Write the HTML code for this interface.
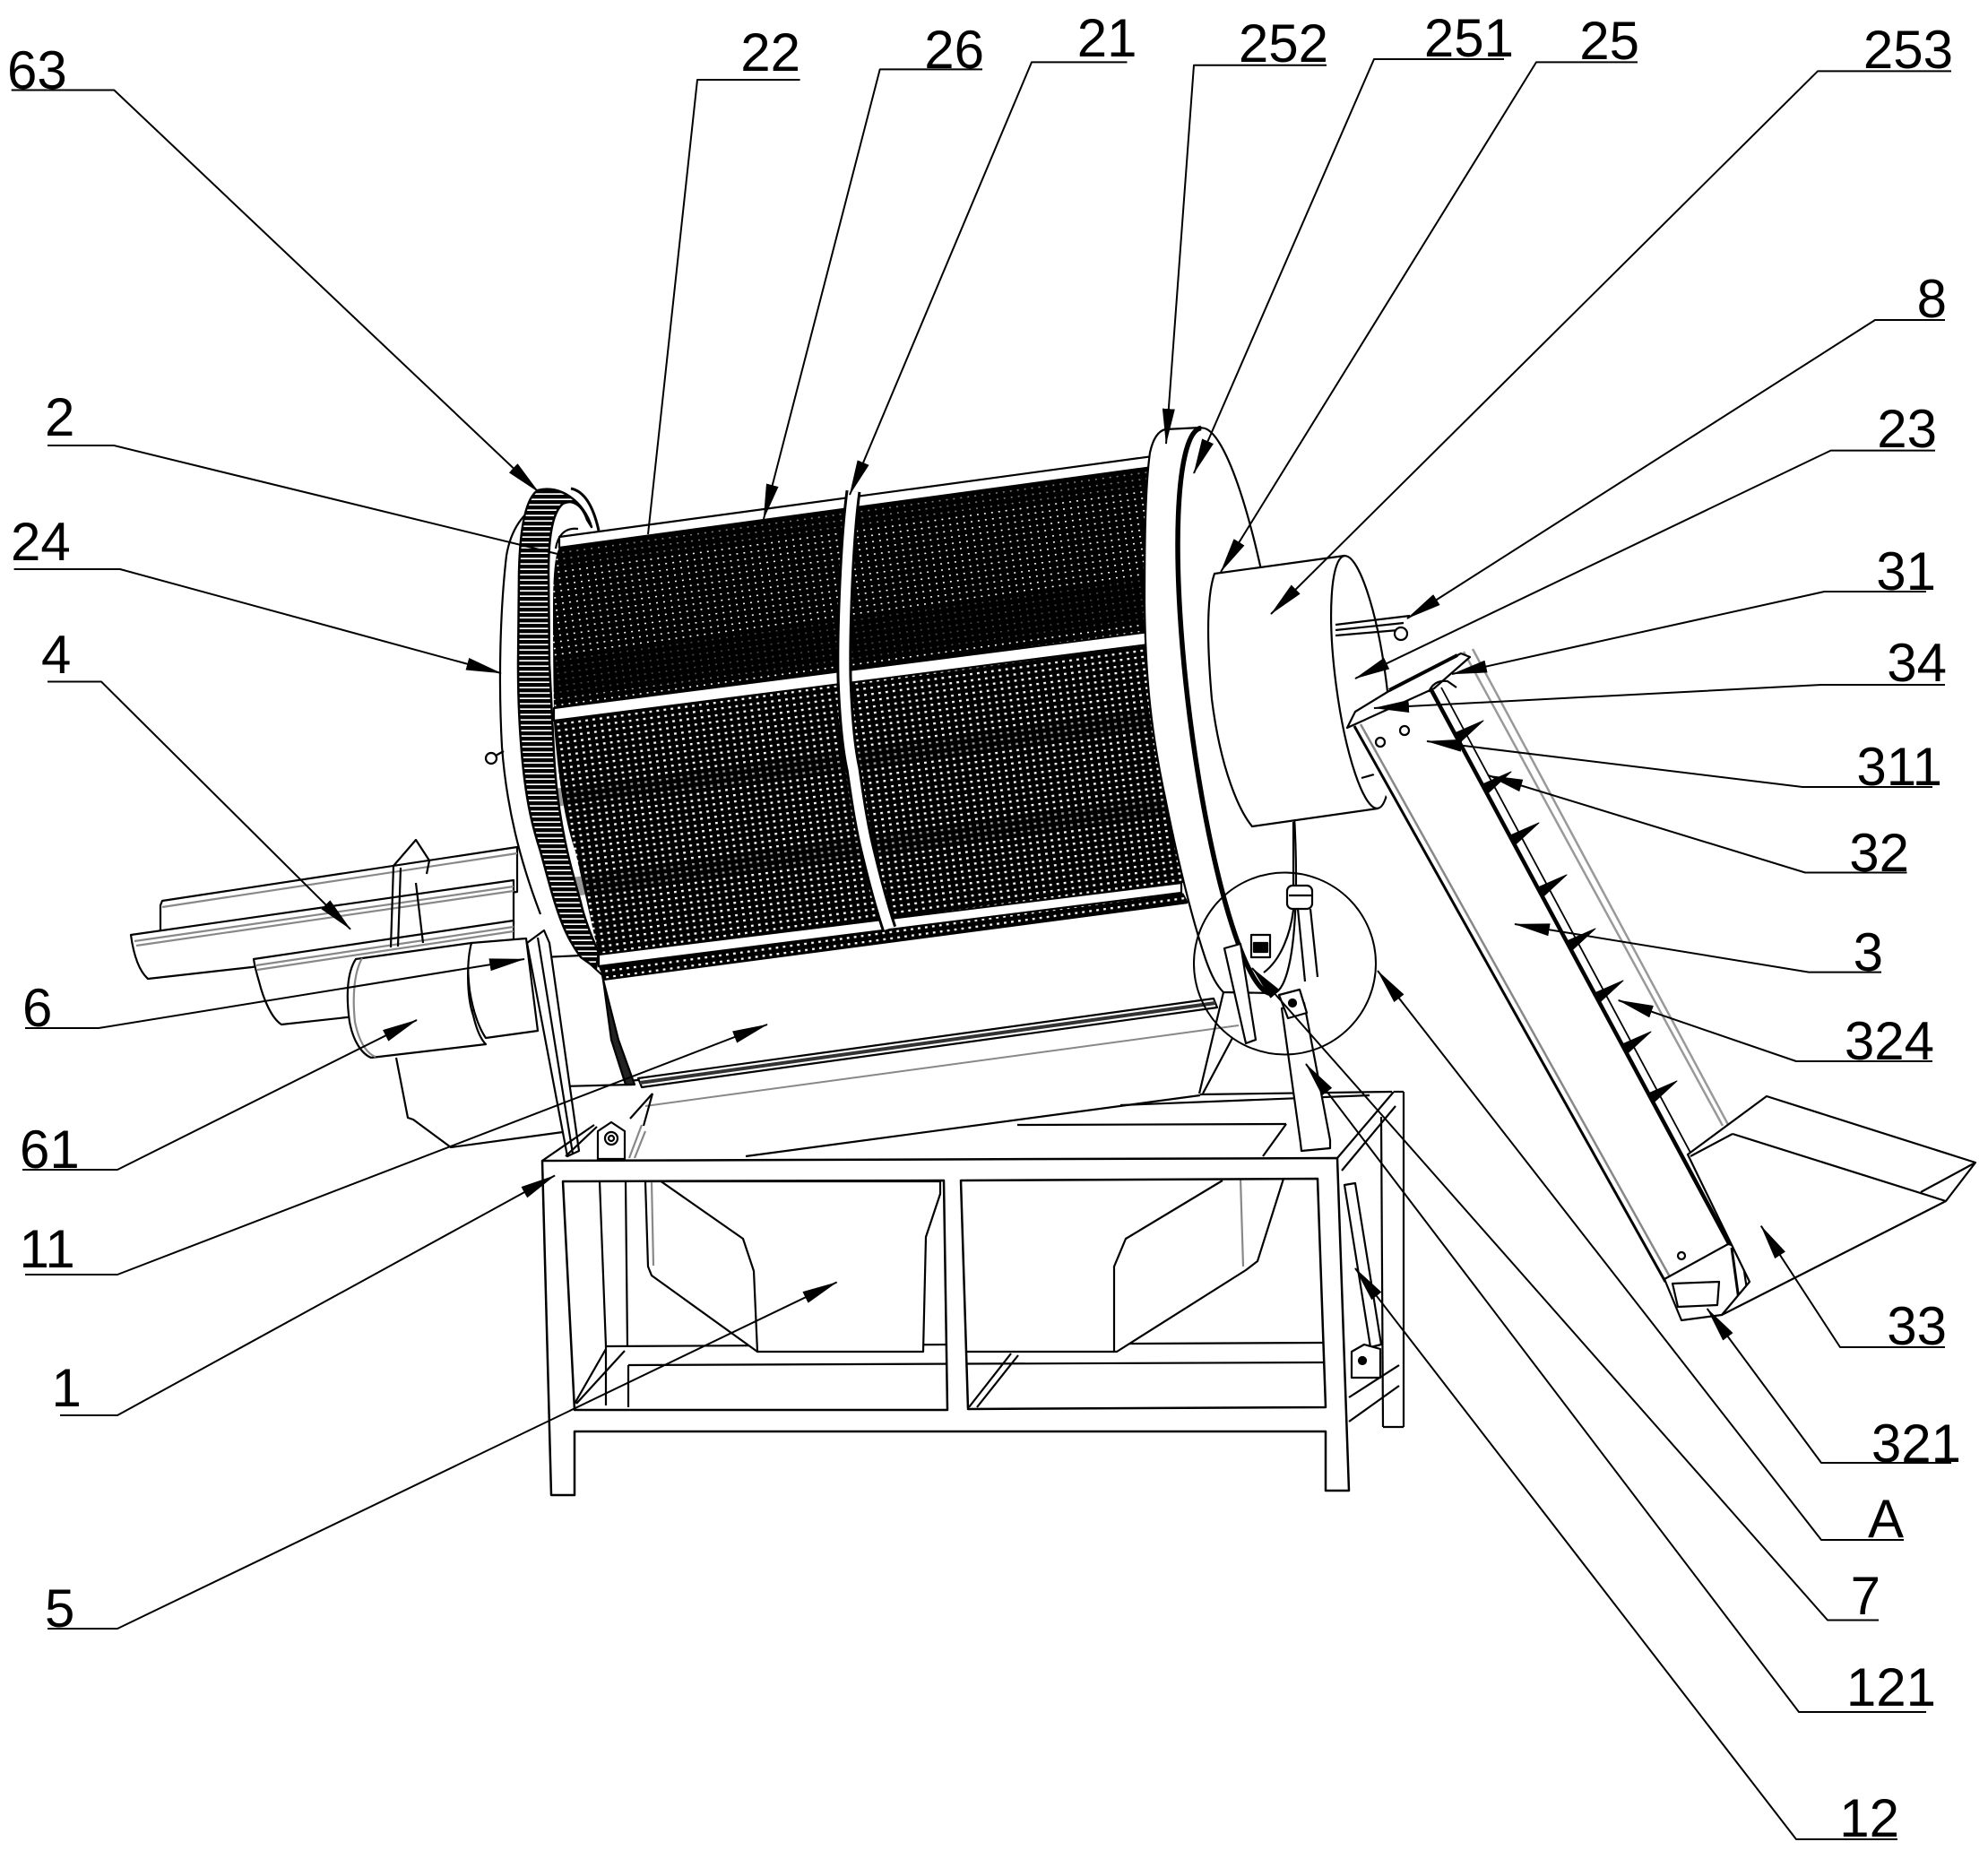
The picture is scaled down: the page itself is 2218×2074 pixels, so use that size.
<!DOCTYPE html>
<html><head><meta charset="utf-8"><style>
html,body{margin:0;padding:0;background:#fff;}
svg{display:block;}
text{font-family:"Liberation Sans",Arial,sans-serif;font-size:60px;fill:#000;}
</style></head><body>
<svg width="2218" height="2074" viewBox="0 0 2218 2074" xmlns="http://www.w3.org/2000/svg">
<defs>
<pattern id="mD" width="8" height="7" patternUnits="userSpaceOnUse" patternTransform="rotate(-7.8)">
<rect width="8" height="7" fill="#000"/><rect x="2" y="2" width="1.9" height="1.6" fill="#fff"/></pattern>
<pattern id="mL" width="8" height="7" patternUnits="userSpaceOnUse" patternTransform="rotate(-7.8)">
<rect width="8" height="7" fill="#000"/><rect x="2" y="2" width="2.8" height="2.3" fill="#fff"/></pattern>
<pattern id="teeth" width="8" height="6" patternUnits="userSpaceOnUse">
<rect width="8" height="6" fill="#fff"/><rect width="8" height="4.3" fill="#000"/></pattern>
<marker id="ah" viewBox="0 0 40 14" refX="39" refY="7" markerWidth="40" markerHeight="14" orient="auto" markerUnits="userSpaceOnUse"><path d="M0,0 L40,7 L0,14 Z" fill="#000"/></marker>
</defs>

<g stroke="#000" stroke-width="2.2" stroke-linejoin="round" fill="none">

<!-- troughs (4) -->
<path d="M181 1005 L577 945 L577 995 L179 1042 L179 1010 Z" fill="#fff"/>
<line x1="181" y1="1012" x2="577" y2="952" stroke="#888"/>
<path d="M146 1043 L573 982 L573 1032 L281 1079 L165 1092 C155 1083 149 1065 146 1043 Z" fill="#fff"/>
<line x1="150" y1="1050" x2="573" y2="989" stroke="#888"/>
<line x1="152" y1="1055" x2="573" y2="994" stroke="#888"/>
<path d="M283 1070 L573 1027 L573 1125 L387 1135 L314 1143 C303 1136 294 1115 289 1095 C286 1085 284 1077 283 1070 Z" fill="#fff"/>
<line x1="286" y1="1077" x2="573" y2="1034" stroke="#888"/>
<line x1="287" y1="1082" x2="573" y2="1039" stroke="#888"/>
<polyline points="436,1057 439,966 464,937 479,960 476,975"/>
<line x1="444" y1="1056" x2="447" y2="968"/>
<line x1="464" y1="985" x2="472" y2="1052"/>

<!-- motor -->
<path d="M442 1180 L455 1247 L461 1249 L503 1280 L628 1263"/>
<path d="M526 1052 L587 1047 L600 1150 L542 1158 C535 1148 528 1130 524 1105 C521 1080 522 1062 526 1052 Z" fill="#fff"/>
<path d="M397 1070 L526 1052 C521 1070 520 1110 528 1133 C532 1150 537 1160 542 1165 L414 1180 C404 1176 394 1162 390 1140 C386 1112 387 1085 397 1070 Z" fill="#fff"/>
<path d="M404 1069 C395 1085 393 1112 396 1140 C400 1160 408 1175 419 1179" stroke="#888"/>

<!-- housing lines -->
<path d="M712 1203 L1354 1114 L1358 1124 L716 1213 Z" fill="#fff"/>
<line x1="714" y1="1208" x2="1356" y2="1119" stroke="#333" stroke-width="4"/>
<line x1="720" y1="1234" x2="1382" y2="1144" stroke="#888" stroke-width="2"/>
<line x1="636" y1="1211" x2="712" y2="1205"/>
<line x1="832" y1="1290" x2="1339" y2="1222"/>
<line x1="1339" y1="1221" x2="1553" y2="1218"/>
<line x1="1250" y1="1233" x2="1528" y2="1222"/>
<line x1="1135" y1="1255" x2="1435" y2="1254"/>
<line x1="1435" y1="1254" x2="1409" y2="1290"/>
<line x1="703" y1="1248" x2="728" y2="1220"/>
<line x1="728" y1="1220" x2="718" y2="1256"/>

<!-- drive plate, bracket bar -->
<path d="M605 1068 L648 1066 L672 1088 L686 1165 L705 1210 L628 1212 Z" fill="#fff"/>
<path d="M673 1093 L690 1160 L708 1210 L698 1210 L682 1160 Z" fill="#222"/>
<path d="M588 1052 L607 1038 L613 1052 L646 1284 L633 1290 Z" fill="#fff"/>
<line x1="600" y1="1046" x2="639" y2="1287"/>
<line x1="605" y1="1295" x2="663" y2="1255"/>
<line x1="631" y1="1290" x2="666" y2="1257"/>
<path d="M667 1293 L667 1262 L682 1252 L697 1262 L697 1293 Z" fill="#fff"/>
<circle cx="682" cy="1270" r="7"/><circle cx="682" cy="1270" r="3"/>
<line x1="702" y1="1292" x2="716" y2="1255" stroke="#888"/>
<line x1="708" y1="1292" x2="720" y2="1262" stroke="#888"/>

<!-- drum body -->
<path d="M624 599 L1290 508 L1325 1007 L673 1093 Z" fill="#fff" stroke="none"/>
<path d="M624 611 L1290 520 L1290 705 L618 790 C617 740 617 700 617 680 C617 640 619 620 624 611 Z" fill="url(#mD)" stroke="none"/>
<path d="M618 804 L1290 719 L1320 985 L668 1065 C660 1030 651 990 642 950 C633 925 626 890 621 840 C619 820 618 810 618 804 Z" fill="url(#mL)" stroke="none"/>
<path d="M668 1078 L1320 996 L1326 1007 L673 1093 Z" fill="url(#mL)" stroke="none"/>
<path d="M618 735 L1290 645 L1290 690 L618 780 Z" fill="#000" opacity="0.7" stroke="none"/>
<path d="M624 611 L1290 520 L1290 545 L624 636 Z" fill="#000" opacity="0.5" stroke="none"/>
<path d="M618 880 L1300 790 L1302 810 L620 900 Z" fill="#000" opacity="0.4" stroke="none"/>
<path d="M630 980 L1312 890 L1314 910 L640 1000 Z" fill="#000" opacity="0.4" stroke="none"/>
<path d="M624 599 L1286 509 L1286 521 L624 611 Z" fill="#fff"/>
<path d="M618 790 L1282 705 L1282 719 L618 804 Z" fill="#fff"/>
<path d="M668 1065 L1318 985 L1318 996 L668 1078 Z" fill="#fff"/>
<line x1="673" y1="1093" x2="1325" y2="1007"/>
<path d="M952 548 C945 600 941 700 942 756 C944 810 948 840 952 858 C958 900 962 925 969 953 C978 990 985 1015 992 1036" stroke="#000" stroke-width="17"/>
<path d="M952 548 C945 600 941 700 942 756 C944 810 948 840 952 858 C958 900 962 925 969 953 C978 990 985 1015 992 1036" stroke="#fff" stroke-width="11"/>
<path d="M645 590 C630 588 622 598 620 612"/>

<!-- ring 24, gear 63 -->
<path d="M600 566 C585 570 570 590 565 620 C558 680 556 760 560 833 C565 900 580 960 603 1020"/>
<circle cx="548" cy="846" r="6" fill="#fff"/>
<line x1="553" y1="843" x2="562" y2="838"/>
<path d="M660 588 C652 560 625 540 600 547 C586 556 580 590 579 640 L578 740 C578 790 580 820 583 850 C588 900 595 925 603 950 C610 975 615 995 620 1010 C628 1035 635 1050 648 1068 L665 1080 L668 1063 C660 1045 652 1025 648 1007 C642 985 637 968 633 950 C625 915 620 880 618 840 L613 740 L612 640 C612 600 616 572 628 562 C640 556 650 565 655 580 Z" fill="url(#teeth)" stroke-width="2.5"/>
<path d="M637 545 C652 548 662 565 668 592" stroke-width="3"/>

<!-- right end plate -->
<path d="M1340 477 L1300 479 Q1288 482 1283 505 C1278 540 1277 600 1277 673 C1278 760 1285 820 1300 890 C1310 940 1325 1010 1345 1070 C1352 1090 1358 1100 1365 1107 L1420 1108 Z" fill="#fff"/>
<ellipse cx="1380" cy="793" rx="53" ry="318" transform="rotate(-7.2 1380 793)" fill="#fff"/>
<path d="M1340 477.5 A 53 318 -7.2 0 0 1420 1108.5" stroke-width="5.5"/>
<line x1="1365" y1="1107" x2="1338" y2="1220"/>
<line x1="1375" y1="1158" x2="1342" y2="1220"/>

<!-- items in circle A -->
<path d="M1366 1058 L1384 1053 L1401 1160 L1390 1164 Z" fill="#fff"/>
<rect x="1396" y="1043" width="21" height="25" fill="#fff"/>
<rect x="1399" y="1052" width="15" height="10" fill="#000"/>
<line x1="1443" y1="917" x2="1443" y2="990"/>
<rect x="1436" y="988" width="28" height="26" rx="6" fill="#fff"/>
<line x1="1438" y1="999" x2="1464" y2="999"/>
<line x1="1448" y1="1014" x2="1456" y2="1095"/>
<line x1="1462" y1="1014" x2="1470" y2="1090"/>
<path d="M1410 1085 C1430 1070 1440 1040 1443 1015"/>
<path d="M1430 1125 L1455 1119 L1484 1272 L1484 1281 L1452 1284 L1451 1275 Z" fill="#fff"/>
<path d="M1427 1110 L1450 1104 L1458 1130 L1437 1136 Z" fill="#fff"/>
<circle cx="1442" cy="1119" r="4" fill="#000"/>

<!-- cylinder 253 + rod 8 -->
<path d="M1355 640 L1500 620 L1537 902 L1397 922 C1383 905 1362 860 1352 780 C1345 700 1348 660 1355 640 Z" fill="#fff"/>
<ellipse cx="1518.5" cy="761" rx="28" ry="142" transform="rotate(-7.5 1518.5 761)" fill="#fff"/>
<line x1="1519" y1="868" x2="1540" y2="862"/>
<line x1="1490" y1="697" x2="1573" y2="687"/>
<line x1="1490" y1="703" x2="1566" y2="695"/>
<line x1="1490" y1="709" x2="1560" y2="703"/>
<circle cx="1563" cy="707" r="7" fill="#fff"/>

<!-- frame back parts -->
<line x1="669" y1="1318" x2="676" y2="1502"/>
<line x1="698" y1="1318" x2="700" y2="1502"/>
<line x1="676" y1="1502" x2="1476" y2="1498"/>
<line x1="701" y1="1523" x2="1476" y2="1520"/>
<line x1="701" y1="1523" x2="701" y2="1570"/>
<line x1="676" y1="1502" x2="676" y2="1568"/>
<line x1="637" y1="1573" x2="676" y2="1505"/>
<line x1="643" y1="1566" x2="697" y2="1507"/>
<line x1="1081" y1="1570" x2="1128" y2="1510"/>
<line x1="1090" y1="1570" x2="1136" y2="1512"/>

<!-- bins (5) -->
<path d="M720 1318 L723 1413 L727 1423 L845 1508 L1030 1508 L1033 1380 L1049 1332 L1049 1318 Z" fill="#fff"/>
<polyline points="736,1317 829,1382 841,1418 845,1508"/>
<line x1="727" y1="1318" x2="729" y2="1412" stroke="#888"/>
<path d="M1072 1316 L1071 1332 L1068 1382 L1071 1508 L1246 1508 L1390 1417 L1403 1407 L1432 1315 Z" fill="#fff"/>
<polyline points="1243,1508 1243,1413 1256,1382 1364,1317"/>
<line x1="1384" y1="1315" x2="1387" y2="1413" stroke="#888"/>

<!-- actuator 12 & right pivot -->
<path d="M1500 1322 L1512 1320 L1541 1500 L1529 1503 Z" fill="#fff"/>
<path d="M1508 1537 L1508 1508 L1522 1500 L1540 1505 L1540 1537 Z" fill="#fff"/>
<circle cx="1520" cy="1518" r="4" fill="#000"/>

<!-- right side frame -->
<line x1="1492" y1="1292" x2="1555" y2="1218"/>
<line x1="1497" y1="1306" x2="1557" y2="1234"/>
<line x1="1555" y1="1218" x2="1566" y2="1218"/>
<line x1="1566" y1="1218" x2="1566" y2="1592"/>
<line x1="1541" y1="1246" x2="1543" y2="1592"/>
<line x1="1543" y1="1592" x2="1566" y2="1592"/>
<line x1="1505" y1="1559" x2="1561" y2="1523"/>
<line x1="1505" y1="1586" x2="1561" y2="1546"/>

<!-- front frame (1) -->
<path fill-rule="evenodd" fill="#fff" stroke-width="2.5" d="M605 1295 L1492 1292 L1505 1663 L1479 1663 L1479 1597 L641 1597 L641 1668 L615 1668 Z M628 1318 L1053 1317 L1057 1573 L641 1573 Z M1072 1317 L1470 1315 L1479 1570 L1080 1572 Z"/>

<!-- conveyor (3) -->
<path d="M1503 812 L1600 768 L1952 1430 L1920 1467 L1873 1470 L1860 1435 Z" fill="#fff" stroke="none"/>
<line x1="1511" y1="810" x2="1858" y2="1430" stroke-width="3"/>
<line x1="1518" y1="808" x2="1865" y2="1428" stroke="#888" stroke-width="2.5"/>
<line x1="1597" y1="770" x2="1952" y2="1430" stroke-width="4.5"/>
<line x1="1608" y1="767" x2="1960" y2="1424" stroke-width="1.8"/>
<line x1="1633" y1="727" x2="1922" y2="1256" stroke="#999" stroke-width="2.5"/>
<line x1="1643" y1="724" x2="1932" y2="1262" stroke="#999" stroke-width="2.5"/>
<path d="M1503 812 L1512 794 L1548 772 L1630 729 L1640 733 L1600 768 Z" fill="#fff"/>
<line x1="1550" y1="770" x2="1626" y2="731" stroke-width="4"/>
<path d="M1594 772 Q1600 758 1615 760 L1625 767"/>
<circle cx="1540" cy="828" r="5"/><circle cx="1567" cy="815" r="5"/>
<g fill="#000" stroke-width="1">
<path d="M1623 818 L1628 829 L1655 804 Z"/>
<path d="M1654 875 L1659 886 L1686 861 Z"/>
<path d="M1685 932 L1690 943 L1717 918 Z"/>
<path d="M1716 990 L1721 1001 L1748 976 Z"/>
<path d="M1748 1050 L1753 1061 L1780 1036 Z"/>
<path d="M1779 1108 L1784 1119 L1811 1094 Z"/>
<path d="M1810 1165 L1815 1176 L1842 1151 Z"/>
<path d="M1839 1220 L1844 1231 L1871 1206 Z"/>
</g>
<path d="M1857 1427 L1876 1473 L1921 1467 L1954 1432 L1950 1394 L1928 1388 Z" fill="#fff"/>
<path d="M1866 1432 L1872 1458 L1916 1456 L1918 1430 Z"/>
<line x1="1932" y1="1392" x2="1940" y2="1450" stroke-width="3"/>
<line x1="1942" y1="1392" x2="1950" y2="1445"/>
<circle cx="1876" cy="1401" r="4"/>

<!-- hopper (33) -->
<path d="M1883 1288 L1971 1223 L2204 1297 L2171 1340 L1921 1467 L1952 1430 Z" fill="#fff"/>
<line x1="1933" y1="1265" x2="2171" y2="1340"/>
<line x1="1886" y1="1290" x2="1933" y2="1265"/>
<line x1="2143" y1="1330" x2="2204" y2="1297"/>

<!-- circle A -->
<circle cx="1433.5" cy="1075" r="101.5" stroke-width="2"/>

<!-- leaders -->
<g stroke-width="2">
<polyline points="12.7,100.5 127.3,100.5 601,549" marker-end="url(#ah)"/>
<polyline points="53,497 127,497 622,618"/>
<polyline points="15.6,635 134,635 559,751" marker-end="url(#ah)"/>
<polyline points="53,760.5 113,760.5 391,1036.7" marker-end="url(#ah)"/>
<polyline points="28,1147 110,1147 585,1070" marker-end="url(#ah)"/>
<polyline points="25,1305 131,1305 465,1138" marker-end="url(#ah)"/>
<polyline points="28,1422 131,1422 856,1143" marker-end="url(#ah)"/>
<polyline points="67,1579 131,1579 619,1311.5" marker-end="url(#ah)"/>
<polyline points="53,1817 131,1817 933.6,1430.5" marker-end="url(#ah)"/>
<polyline points="892.6,89 778,89 723,596"/>
<polyline points="1096,77.4 981.7,77.4 852,579" marker-end="url(#ah)"/>
<polyline points="1257.5,69.4 1151,69.4 948,552" marker-end="url(#ah)"/>
<polyline points="1480,72.7 1332,72.7 1301,495" marker-end="url(#ah)"/>
<polyline points="1678,66 1533,66 1332,528" marker-end="url(#ah)"/>
<polyline points="1827,69.4 1714,69.4 1362,638" marker-end="url(#ah)"/>
<polyline points="2177,79.4 2028,79.4 1418,685" marker-end="url(#ah)"/>
<polyline points="2170,357 2092,357 1570,690" marker-end="url(#ah)"/>
<polyline points="2159,502.6 2042.6,502.6 1512,757" marker-end="url(#ah)"/>
<polyline points="2149,660 2035.5,660 1620,752" marker-end="url(#ah)"/>
<polyline points="2170,764 2032,764 1533,790" marker-end="url(#ah)"/>
<polyline points="2156,878 2011,878 1592,827" marker-end="url(#ah)"/>
<polyline points="2127.5,973.5 2014,973.5 1660,865" marker-end="url(#ah)"/>
<polyline points="2099,1084.6 2018,1084.6 1690,1031" marker-end="url(#ah)"/>
<polyline points="2156,1184 2004,1184 1805.7,1116" marker-end="url(#ah)"/>
<polyline points="2170,1503 2053,1503 1964.8,1367.7" marker-end="url(#ah)"/>
<polyline points="2177,1632 2032,1632 1904.7,1460" marker-end="url(#ah)"/>
<polyline points="2124,1718 2032,1718 1537,1083" marker-end="url(#ah)"/>
<polyline points="2096,1807.5 2039,1807.5 1397,1080" marker-end="url(#ah)"/>
<polyline points="2149,1910 2007,1910 1457,1187" marker-end="url(#ah)"/>
<polyline points="2117,2052 2004,2052 1512,1415" marker-end="url(#ah)"/>
</g>
</g>

<!-- labels -->
<text x="8" y="99">63</text>
<text x="50" y="486">2</text>
<text x="12" y="625">24</text>
<text x="46" y="751">4</text>
<text x="25" y="1145">6</text>
<text x="22" y="1303">61</text>
<text x="21.5" y="1414">11</text>
<text x="57.5" y="1569">1</text>
<text x="50" y="1815">5</text>
<g text-anchor="end">
<text x="893" y="79">22</text>
<text x="1098" y="76">26</text>
<text x="1268.5" y="63">21</text>
<text x="1482" y="69">252</text>
<text x="1689" y="63">251</text>
<text x="1829" y="66">25</text>
<text x="2179" y="76">253</text>
<text x="2172" y="354">8</text>
<text x="2161" y="499">23</text>
<text x="2160" y="658">31</text>
<text x="2172" y="760">34</text>
<text x="2167" y="876">311</text>
<text x="2130" y="972">32</text>
<text x="2101" y="1083">3</text>
<text x="2158" y="1182">324</text>
<text x="2172" y="1500">33</text>
<text x="2188" y="1631">321</text>
<text x="2124" y="1715">A</text>
<text x="2098" y="1801">7</text>
<text x="2160" y="1903">121</text>
<text x="2119" y="2049">12</text>
</g>
</svg>
</body></html>
